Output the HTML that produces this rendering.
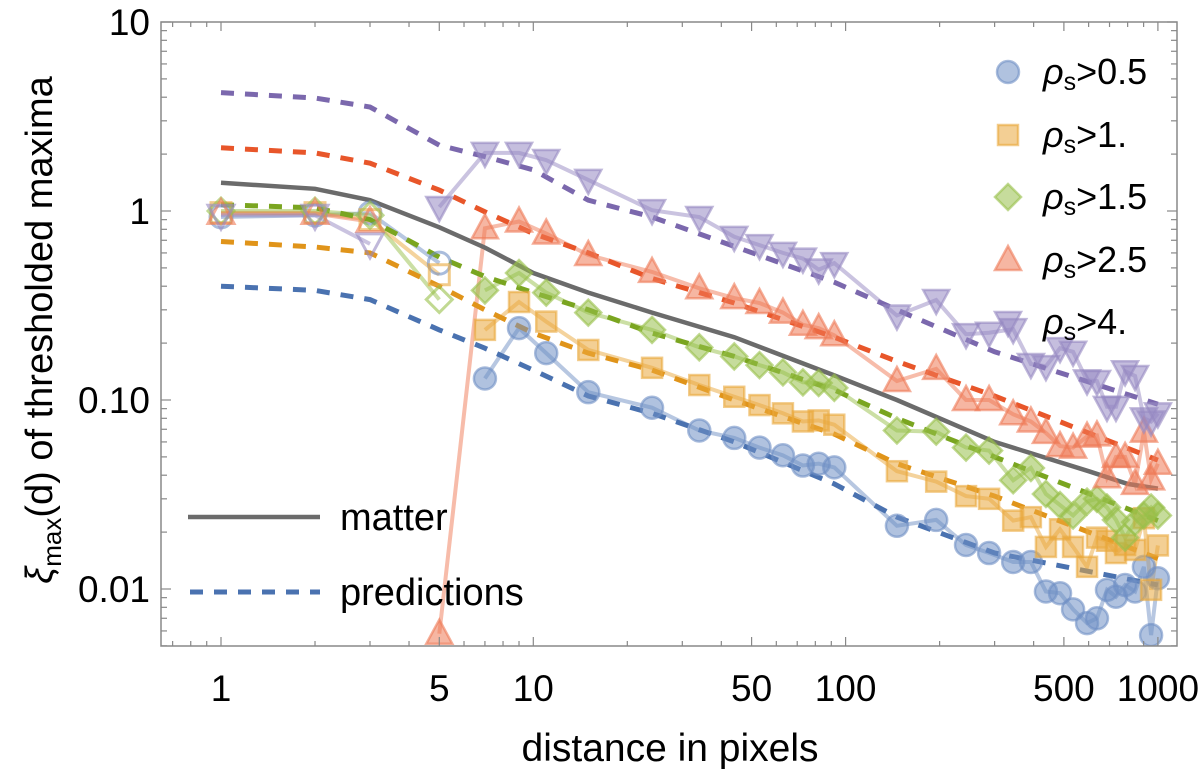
<!DOCTYPE html>
<html><head><meta charset="utf-8"><style>
body{margin:0;background:#fff}
svg{display:block;font-family:"Liberation Sans",sans-serif}
</style></head><body>
<svg id="chart" width="1200" height="775" viewBox="0 0 1200 775" xmlns="http://www.w3.org/2000/svg">
<rect width="1200" height="775" fill="#fff"/>
<g id="plot"></g>
<g id="axes"></g>
<text x="670" y="761" font-size="39" text-anchor="middle">distance in pixels</text>
<text transform="translate(52,330) rotate(-90)" font-size="38" text-anchor="middle"><tspan font-style="italic">ξ</tspan><tspan font-size="26" dy="9">max</tspan><tspan dy="-9">(d) of thresholded maxima</tspan></text>
<g id="legend"></g>
</svg>
<script>
// ---- data ----
const earlyD = [1, 2, 3, 5];
const mainD = [5, 7, 9, 11, 15, 24, 34, 44, 53, 63, 73, 82, 92, 146, 195, 243, 288, 344, 392, 438, 486, 535, 593, 638, 687, 734, 785, 845, 902, 951, 1000];
const seriesNames = ["ρs>0.5", "ρs>1.", "ρs>1.5", "ρs>2.5", "ρs>4."];
const earlyBlue = [0.93, 0.95, 0.975, 0.53];
const earlyOrange = [0.98, 0.98, 0.9, 0.46];
const earlyGreen = [1.0, 1.0, 0.95, 0.34];
const earlyRed = [0.97, 0.97, 0.88, null];
const earlyPurple = [0.95, 0.95, 0.67, null];
const mainBlue = [null, 0.13, 0.24, 0.177, 0.110, 0.091, 0.069, 0.063, 0.056, 0.051, 0.045, 0.046, 0.044, 0.0216, 0.0232, 0.0171, 0.0155, 0.0139, 0.0139, 0.0097, 0.0095, 0.0078, 0.0066, 0.0070, 0.0099, 0.0091, 0.0105, 0.0097, 0.0131, 0.0057, 0.0114];
const mainOrange = [null, 0.235, 0.33, 0.26, 0.184, 0.148, 0.12, 0.104, 0.094, 0.085, 0.077, 0.078, 0.074, 0.042, 0.037, 0.031, 0.030, 0.023, 0.024, 0.0167, 0.0207, 0.0167, 0.0131, 0.0187, 0.018, 0.0155, 0.0171, 0.0161, 0.0237, 0.0099, 0.017];
const mainGreen = [null, 0.38, 0.47, 0.37, 0.29, 0.235, 0.19, 0.17, 0.153, 0.14, 0.124, 0.123, 0.116, 0.069, 0.068, 0.056, 0.054, 0.0376, 0.0437, 0.0318, 0.0278, 0.0245, 0.029, 0.030, 0.027, 0.0232, 0.0187, 0.0226, 0.0245, 0.027, 0.0245];
const mainRed = [0.0058, 0.81, 0.88, 0.76, 0.585, 0.476, 0.39, 0.346, 0.326, 0.29, 0.25, 0.24, 0.22, 0.126, 0.146, 0.10, 0.10, 0.084, 0.077, 0.067, 0.057, 0.056, 0.064, 0.065, 0.039, 0.05, 0.05, 0.036, 0.068, 0.038, 0.046];
const mainPurple = [1.05, 2.03, 2.03, 1.86, 1.46, 1.01, 0.93, 0.73, 0.66, 0.60, 0.56, 0.49, 0.53, 0.28, 0.338, 0.223, 0.227, 0.237, 0.155, 0.151, 0.188, 0.18, 0.127, 0.126, 0.092, 0.092, 0.142, 0.134, 0.080, 0.077, 0.085];
const predD = [1, 2, 3, 5, 7, 10, 15, 24, 44, 92, 146, 300, 1000];
const predBlue = [0.40, 0.38, 0.34, 0.235, 0.188, 0.144, 0.105, 0.085, 0.06, 0.036, 0.024, 0.0155, 0.0105];
const predOrange = [0.69, 0.645, 0.6, 0.4, 0.3, 0.226, 0.177, 0.144, 0.1, 0.066, 0.046, 0.031, 0.0145];
const predGreen = [1.08, 1.04, 0.9, 0.57, 0.45, 0.37, 0.30, 0.226, 0.17, 0.113, 0.08, 0.05, 0.023];
const predRed = [2.16, 2.03, 1.79, 1.29, 0.99, 0.76, 0.6, 0.44, 0.326, 0.215, 0.16, 0.105, 0.048];
const predPurple = [4.23, 3.96, 3.55, 2.23, 1.94, 1.65, 1.14, 0.93, 0.65, 0.42, 0.30, 0.18, 0.095];
const matterD = [1, 2, 3, 5, 7, 10, 15, 24, 44, 92, 146, 300, 600, 800, 1000];
const matterV = [1.41, 1.31, 1.14, 0.82, 0.64, 0.47, 0.37, 0.29, 0.215, 0.135, 0.1, 0.06, 0.042, 0.036, 0.034];
const xTickVals = [1, 5, 10, 50, 100, 500, 1000];
const xTickLabels = ["1", "5", "10", "50", "100", "500", "1000"];
const yTickVals = [10, 1, 0.1, 0.01];
const yTickLabels = ["10", "1", "0.10", "0.01"];

// ---- scales ----
const X0 = 161, X1 = 1177, Y0 = 22, Y1 = 646;
function sx(d) { return 221 + 312.3 * Math.log10(d); }
function sy(v) { return 211 - 189 * Math.log10(v); }
const NS = "http://www.w3.org/2000/svg";
function mk(tag, attrs, parent) {
  const e = document.createElementNS(NS, tag);
  for (const k in attrs) e.setAttribute(k, attrs[k]);
  parent.appendChild(e);
  return e;
}
const plot = document.getElementById('plot');
const axes = document.getElementById('axes');
const legend = document.getElementById('legend');

const colors = ["#6f8fc4", "#e9a83c", "#97bf4a", "#ef7a56", "#9688c2"];
const dashColors = ["#4a72b0", "#e0941a", "#7aa520", "#e8562a", "#7b68ad"];
const shapes = ["circle", "square", "diamond", "up", "down"];
const earlies = [earlyBlue, earlyOrange, earlyGreen, earlyRed, earlyPurple];
const mains = [mainBlue, mainOrange, mainGreen, mainRed, mainPurple];
const preds = [predBlue, predOrange, predGreen, predRed, predPurple];
const keys = ["blue", "orange", "green", "red", "purple"];

function marker(shape, x, y, color, open, parent, r) {
  r = r || 11;
  let e;
  if (shape === "circle") e = mk('circle', {cx: x, cy: y, r: r}, parent);
  else if (shape === "square") e = mk('rect', {x: x - r + 1, y: y - r + 1, width: 2 * r - 2, height: 2 * r - 2}, parent);
  else if (shape === "diamond") e = mk('polygon', {points: `${x},${y - r - 2} ${x + r + 2},${y} ${x},${y + r + 2} ${x - r - 2},${y}`}, parent);
  else if (shape === "up") e = mk('polygon', {points: `${x},${y - r - 3} ${x + r + 2},${y + r - 1} ${x - r - 2},${y + r - 1}`}, parent);
  else e = mk('polygon', {points: `${x},${y + r + 3} ${x + r + 2},${y - r + 1} ${x - r - 2},${y - r + 1}`}, parent);
  if (open) { e.setAttribute('fill', 'none'); e.setAttribute('stroke', color); e.setAttribute('stroke-width', '3'); e.setAttribute('stroke-opacity', '0.6'); }
  else { e.setAttribute('fill', color); e.setAttribute('fill-opacity', '0.55'); e.setAttribute('stroke', color); e.setAttribute('stroke-width', '2.5'); e.setAttribute('stroke-opacity', '0.6'); }
  return e;
}
function pathFrom(ds, vs) {
  let s = "", pen = false;
  for (let i = 0; i < ds.length; i++) {
    if (vs[i] == null) { pen = false; continue; }
    s += (pen ? "L" : "M") + sx(ds[i]).toFixed(1) + "," + sy(vs[i]).toFixed(1);
    pen = true;
  }
  return s;
}
const clip = mk('clipPath', {id: 'pc'}, plot);
mk('rect', {x: X0, y: Y0 - 10, width: X1 - X0, height: Y1 - Y0 + 10}, clip);
const g = mk('g', {'clip-path': 'url(#pc)'}, plot);

for (let s = 0; s < 5; s++) {
  const eLine = mk('path', {d: pathFrom(earlyD, earlies[s]), fill: 'none', stroke: colors[s], 'stroke-width': 4, 'stroke-opacity': 0.5}, g);
  
  
  const mLine = mk('path', {d: pathFrom(mainD, mains[s]), fill: 'none', stroke: colors[s], 'stroke-width': 4, 'stroke-opacity': 0.5}, g);
  
  
}
for (let s = 0; s < 5; s++) {
  const p = mk('path', {d: pathFrom(predD, preds[s]), fill: 'none', stroke: dashColors[s], 'stroke-width': 5, 'stroke-dasharray': '13 11'}, g);
  
  
}
const mline = mk('path', {d: pathFrom(matterD, matterV), fill: 'none', stroke: '#6b6b6b', 'stroke-width': 4.5}, g);


for (let s = 0; s < 5; s++) {
  for (let i = 0; i < earlyD.length; i++) {
    const v = earlies[s][i]; if (v == null) continue;
    const m = marker(shapes[s], sx(earlyD[i]), sy(v), colors[s], true, g);
    
    
  }
  for (let i = 0; i < mainD.length; i++) {
    const v = mains[s][i]; if (v == null) continue;
    const m = marker(shapes[s], sx(mainD[i]), sy(v), colors[s], false, g);
    
    
  }
}

const fr = mk('rect', {x: X0, y: Y0, width: X1 - X0, height: Y1 - Y0, fill: 'none', stroke: '#888', 'stroke-width': 1.5}, axes);


for (let dec = 1; dec <= 1000; dec *= 10) {
  for (let k = 1; k <= 9; k++) {
    const d = dec * k; if (d > 1200) break;
    const x = sx(d);
    const major = xTickVals.indexOf(d) >= 0;
    const L = major ? 9 : 5;
    mk('line', {x1: x, y1: Y1, x2: x, y2: Y1 - L, stroke: '#888', 'stroke-width': 1.2}, axes);
    mk('line', {x1: x, y1: Y0, x2: x, y2: Y0 + L, stroke: '#888', 'stroke-width': 1.2}, axes);
  }
}
[0.7, 0.8, 0.9].forEach(d => {
  mk('line', {x1: sx(d), y1: Y1, x2: sx(d), y2: Y1 - 5, stroke: '#888', 'stroke-width': 1.2}, axes);
  mk('line', {x1: sx(d), y1: Y0, x2: sx(d), y2: Y0 + 5, stroke: '#888', 'stroke-width': 1.2}, axes);
});
for (let i = 0; i < xTickVals.length; i++) {
  const t = mk('text', {x: sx(xTickVals[i]), y: 701, 'font-size': 37, 'text-anchor': 'middle'}, axes);
  t.textContent = xTickLabels[i];
  
  
}
for (let dec = 0.001; dec <= 10; dec *= 10) {
  for (let k = 1; k <= 9; k++) {
    const v = dec * k; const y = sy(v);
    if (y < Y0 - 0.5 || y > Y1) continue;
    const major = k === 1;
    const L = major ? 10 : 6;
    mk('line', {x1: X0, y1: y, x2: X0 + L, y2: y, stroke: '#888', 'stroke-width': 1.2}, axes);
    mk('line', {x1: X1, y1: y, x2: X1 - L, y2: y, stroke: '#888', 'stroke-width': 1.2}, axes);
  }
}
for (let i = 0; i < yTickVals.length; i++) {
  const t = mk('text', {x: 150, y: sy(yTickVals[i]) + 13, 'font-size': 37, 'text-anchor': 'end'}, axes);
  t.textContent = yTickLabels[i];
  
  
}

const rows = [72, 135, 197, 260, 322];
for (let s = 0; s < 5; s++) {
  const gg = mk('g', {}, legend);
  
  
  marker(shapes[s], 1008, rows[s], colors[s], false, gg, 11);
  const t = mk('text', {x: 1043, y: rows[s] + 12, 'font-size': 36}, gg);
  const base = seriesNames[s].slice(2);
  t.innerHTML = '<tspan font-style="italic">ρ</tspan><tspan font-size="25" dy="6">s</tspan><tspan dy="-6">' + base + '</tspan>';
}
const lg1 = mk('g', {}, legend);


mk('line', {x1: 188, y1: 517, x2: 320, y2: 517, stroke: '#6b6b6b', 'stroke-width': 4.5}, lg1);
const t1 = mk('text', {x: 340, y: 530, 'font-size': 38}, lg1); t1.textContent = 'matter';
const lg2 = mk('g', {}, legend);


mk('line', {x1: 190, y1: 592, x2: 320, y2: 592, stroke: '#4a72b0', 'stroke-width': 5, 'stroke-dasharray': '13 11'}, lg2);
const t2 = mk('text', {x: 340, y: 605, 'font-size': 38}, lg2); t2.textContent = 'predictions';
</script>
</body></html>
